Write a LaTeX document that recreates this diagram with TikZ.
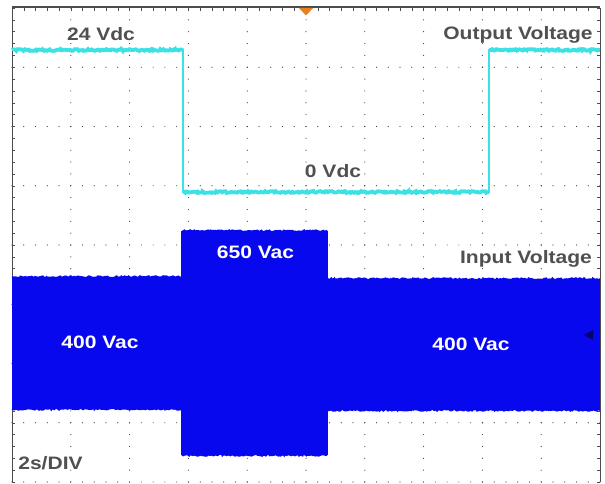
\documentclass[tikz,border=0pt]{standalone}
\usepackage{fontspec}
\setmainfont[FakeStretch=1.17]{Liberation Sans}
\usetikzlibrary{calc,decorations.pathmorphing}
\definecolor{outtrace}{RGB}{60,225,230}
\definecolor{intrace}{RGB}{8,8,238}
\definecolor{labelgray}{RGB}{80,80,80}
\definecolor{markorange}{RGB}{232,128,30}

\begin{document}
\begin{tikzpicture}[x=1pt, y=-1pt]
\def\gx{58.8}
\def\gy{59.25}
%styles
\tikzstyle{griddot}=[fill=black!75]
\tikzstyle{scopetext}=[font=\bfseries\fontsize{18}{18}\selectfont, text=labelgray, anchor=base, inner sep=0pt]
\tikzstyle{bandtext}=[scopetext, text=white]
\tikzstyle{noise}=[decorate, decoration={random steps, segment length=1.5pt, amplitude=0.9pt}]

\fill[white] (0,0) rectangle (605,484);
\useasboundingbox (0,0) rectangle (605,484);

%grid
\foreach \i in {1,...,9}
  \foreach \j in {0,...,40}
    \fill[griddot] (12+\i*\gx, 8+\j*\gy/5) circle (0.6pt);
\foreach \j in {1,...,8}
  \foreach \i in {0,...,50}
    \fill[griddot] (12+\i*\gx/5, 8+\j*\gy) circle (0.6pt);

%border
\draw[line width=0.6pt, black!70] (12,8) -- (12,482);
\draw[line width=0.6pt, black!70] (600,8) -- (600,482);
\foreach \j in {0,...,40} {
  \draw[black!70, line width=0.5pt] (12,8+\j*\gy/5) -- ++(3,0);
  \draw[black!70, line width=0.5pt] (600,8+\j*\gy/5) -- ++(-3,0);
}
\foreach \i in {0,...,50}
  \draw[black!70, line width=0.5pt] (12+\i*\gx/5,8) -- ++(0,3);
\draw[line width=2.5pt, black!70] (12,7) -- (600,7);

%input voltage
\fill[intrace] (12,277) rectangle (182,409);
\fill[intrace] (181,231) rectangle (328,455);
\fill[intrace] (327,279) rectangle (600,410);
\draw[intrace, line width=1.6pt, noise] (12,277) -- (181,277);
\draw[intrace, line width=1.6pt, noise] (12,409) -- (181,409);
\draw[intrace, line width=1.6pt, noise] (182,231) -- (327,231);
\draw[intrace, line width=1.6pt, noise] (182,455) -- (327,455);
\draw[intrace, line width=1.6pt, noise] (328,279) -- (600,279);
\draw[intrace, line width=1.6pt, noise] (328,410) -- (600,410);

%output voltage
\coordinate (hi0) at (12,50);
\coordinate (fall) at (183,50);
\coordinate (lo0) at (183,192);
\coordinate (lo1) at (489,192);
\coordinate (rise) at (489,50);
\coordinate (hi1) at (600,50);
\draw[outtrace, line width=1.8pt] (hi0) -- (fall) -- (lo0) -- (lo1) -- (rise) -- (hi1);
\draw[outtrace, line width=3.8pt, noise] (hi0) -- (fall);
\draw[outtrace, line width=3.8pt, noise] (lo0) -- (lo1);
\draw[outtrace, line width=3.8pt, noise] (rise) -- (hi1);

%markers
\fill[markorange] (299,8) -- (313,8) -- (306,15.5) -- cycle;
\fill[intrace!45!black] (584,335) -- (593,330) -- (593,340) -- cycle;

%labels
\node[scopetext] (high) at (101,41) {24 Vdc};
\node[scopetext] (outname) at (518,40) {Output Voltage};
\node[scopetext] (low) at (333,177) {0 Vdc};
\node[bandtext] (peak) at (255.5,258) {650 Vac};
\node[scopetext] (inname) at (526,263) {Input Voltage};
\node[bandtext] (nomleft) at (100,348) {400 Vac};
\node[bandtext] (nomright) at (471,350) {400 Vac};
\node[scopetext] (timebase) at (50.5,469) {2s/DIV};

\end{tikzpicture}
\end{document}
